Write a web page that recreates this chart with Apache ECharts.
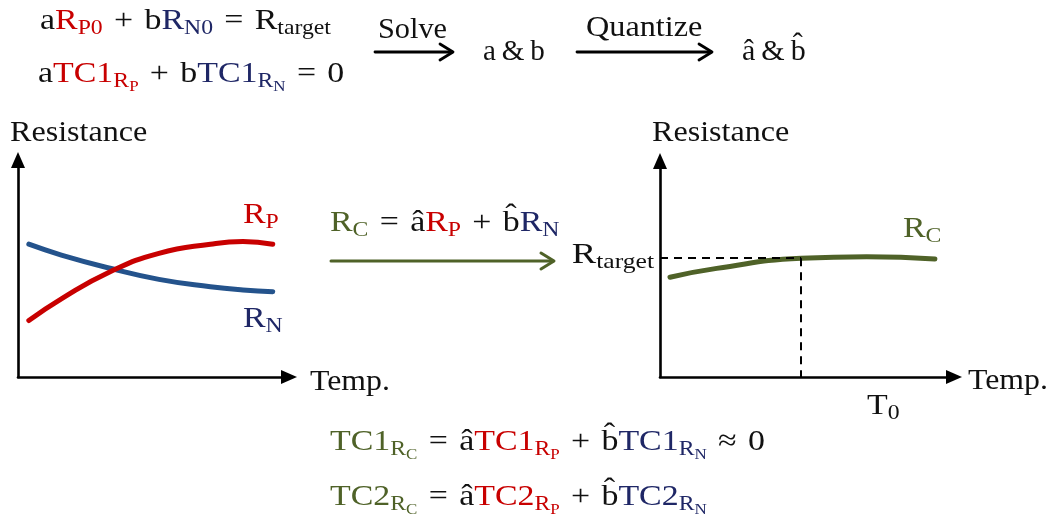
<!DOCTYPE html>
<html>
<head>
<meta charset="utf-8">
<script src="https://cdn.jsdelivr.net/npm/echarts@6/dist/echarts.min.js"></script>
<style>
  html, body { margin: 0; padding: 0; background: #fff; }
  #chart { width: 1050px; height: 521px; }
</style>
</head>
<body>
<div id="chart"></div>
<script>
// Temperature samples (arbitrary units, 0–100 along each temperature axis)
const tempsPN = [4, 16, 34, 52, 71, 83, 94];
// Resistor with positive temperature coefficient
const rP = [26, 36, 48.5, 57, 61.2, 62.4, 61.2];
// Resistor with negative temperature coefficient
const rN = [61.2, 56.2, 50.1, 45.0, 41.6, 40.1, 39.3];
// Combined resistor R_C = â·R_P + b̂·R_N
const tempsC = [3.4, 19.3, 48, 70.3, 93.5];
const rC = [46.2, 50.3, 55.0, 55.7, 54.6];
// Operating point
const T0 = 48;
const R_TARGET = 55;

const FONT = '"Liberation Serif", "Times New Roman", serif';
const FS = 30;          // main math size
const FS_S = 21;        // subscript size
const FS_SS = 15;       // sub-subscript size
const SX = 1.13;        // horizontal stretch of the math formulas
const BLACK = '#111111';
const RED = '#c80000';
const NAVY = '#1f2766';
const GREEN = '#4f6228';
const BLUE_LINE = '#24538c';

function mainStyle(c) {
  return { fill: c, color: c, fontFamily: FONT, fontSize: FS, lineHeight: 48 };
}
function subStyle(c) {
  return { fill: c, color: c, fontFamily: FONT, fontSize: FS_S, lineHeight: FS_S, padding: [15, 0, 0, 0] };
}
function subSubStyle(c) {
  return { fill: c, color: c, fontFamily: FONT, fontSize: FS_SS, lineHeight: FS_SS, padding: [26, 0, 0, 0] };
}
const rich = {
  k: mainStyle(BLACK), r: mainStyle(RED), b: mainStyle(NAVY), g: mainStyle(GREEN),
  kS: subStyle(BLACK), rS: subStyle(RED), bS: subStyle(NAVY), gS: subStyle(GREEN),
  rSS: subSubStyle(RED), bSS: subSubStyle(NAVY), gSS: subSubStyle(GREEN)
};

const BHAT = 'b\u0302';
const AHAT = '\u00e2';
// binary operator / relation with math spacing
function op(s) { return '\u2004' + s + '\u2004'; }

function mathText(x, y, text, sx, align) {
  return {
    type: 'text', x: x, y: y, scaleX: sx || SX, silent: true,
    style: { text: text, rich: rich, fontFamily: FONT, fontSize: FS, fill: BLACK,
             align: align || 'left', verticalAlign: 'middle' }
  };
}
function arrow(x1, x2, y, color, w) {
  return {
    type: 'group', silent: true,
    children: [
      { type: 'polyline', shape: { points: [[x1, y], [x2 - 1, y]] },
        style: { stroke: color, lineWidth: w, lineCap: 'round' } },
      { type: 'polyline', shape: { points: [[x2 - 13, y - 8], [x2, y], [x2 - 13, y + 8]] },
        style: { stroke: color, lineWidth: w, lineCap: 'round', lineJoin: 'round', fill: null } }
    ]
  };
}

const axisLineStyle = { color: '#000', width: 2.6 };
function baseAxis(extra) {
  return Object.assign({
    type: 'value', min: 0, max: 100,
    axisLine: { show: true, onZero: false, symbol: ['none', 'triangle'], symbolSize: [14, 16], lineStyle: axisLineStyle },
    axisTick: { show: false },
    splitLine: { show: false },
    axisLabel: { show: false }
  }, extra || {});
}

const chart = echarts.init(document.getElementById('chart'), null, { renderer: 'canvas' });

const option = {
  animation: false,
  backgroundColor: '#ffffff',
  grid: [
    { left: 18, top: 160, width: 271, height: 217 },
    { left: 660, top: 161, width: 294, height: 216 }
  ],
  xAxis: [
    baseAxis({ gridIndex: 0 }),
    baseAxis({ gridIndex: 1 })
  ],
  yAxis: [
    baseAxis({ gridIndex: 0 }),
    baseAxis({ gridIndex: 1 })
  ],
  series: [
    {
      name: 'R_N', type: 'line', xAxisIndex: 0, yAxisIndex: 0, smooth: 0.5,
      symbol: 'none', lineStyle: { color: BLUE_LINE, width: 5, cap: 'round' },
      data: tempsPN.map((t, i) => [t, rN[i]]), z: 3
    },
    {
      name: 'R_P', type: 'line', xAxisIndex: 0, yAxisIndex: 0, smooth: 0.5,
      symbol: 'none', lineStyle: { color: RED, width: 5, cap: 'round' },
      data: tempsPN.map((t, i) => [t, rP[i]]), z: 4
    },
    {
      name: 'guides', type: 'line', xAxisIndex: 1, yAxisIndex: 1, data: [], z: 2,
      markLine: {
        silent: true, symbol: ['none', 'none'], label: { show: false },
        lineStyle: { color: '#000', width: 2, type: [8, 6] },
        emphasis: { disabled: true },
        data: [
          [{ coord: [0, R_TARGET] }, { coord: [T0, R_TARGET] }],
          [{ coord: [T0, R_TARGET] }, { coord: [T0, 0] }]
        ]
      }
    },
    {
      name: 'R_C', type: 'line', xAxisIndex: 1, yAxisIndex: 1, smooth: 0.5,
      symbol: 'none', lineStyle: { color: GREEN, width: 5, cap: 'round' },
      data: tempsC.map((t, i) => [t, rC[i]]), z: 4
    }
  ]
};

chart.setOption(option);

// R_target sits beside the right-hand resistance axis, level with its value
const targetY = chart.convertToPixel({ gridIndex: 1 }, [0, R_TARGET])[1];

chart.setOption({
  graphic: [
    mathText(40, 21, '{k|a}{r|R}{rS|P0}{k|' + op('+') + 'b}{b|R}{bS|N0}{k|' + op('=') + 'R}{kS|target}'),
    mathText(38, 74, '{k|a}{r|TC1}{rS|R}{rSS|P}{k|' + op('+') + 'b}{b|TC1}{bS|R}{bSS|N}{k|' + op('=') + '0}'),
    mathText(378, 30, '{k|Solve}', 1.01),
    arrow(375, 453, 52, '#000', 2.8),
    mathText(483, 52, '{k|a\u2009&\u2009b}', 0.97),
    mathText(586, 28, '{k|Quantize}', 1.075),
    arrow(577, 712, 52, '#000', 2.8),
    mathText(742, 52, '{k|' + AHAT + '\u2009&\u2009' + BHAT + '}', 1.0),
    mathText(10, 133, '{k|Resistance}', 1.07),
    mathText(652, 133, '{k|Resistance}', 1.07),
    mathText(243, 215, '{r|R}{rS|P}'),
    mathText(243, 319, '{b|R}{bS|N}'),
    mathText(654, targetY - 3, '{k|R}{kS|target}', 1.22, 'right'),
    mathText(330, 223, '{g|R}{gS|C}{k|' + op('=') + AHAT + '}{r|R}{rS|P}{k|' + op('+') + BHAT + '}{b|R}{bS|N}'),
    arrow(331, 554, 261, GREEN, 3),
    mathText(903, 229, '{g|R}{gS|C}'),
    mathText(310, 382, '{k|Temp.}', 1.06),
    mathText(968, 381, '{k|Temp.}', 1.06),
    mathText(867, 406, '{k|T}{kS|0}'),
    mathText(330, 442, '{g|TC1}{gS|R}{gSS|C}{k|' + op('=') + AHAT + '}{r|TC1}{rS|R}{rSS|P}{k|' + op('+') + BHAT + '}{b|TC1}{bS|R}{bSS|N}{k|' + op('\u2248') + '0}'),
    mathText(330, 497, '{g|TC2}{gS|R}{gSS|C}{k|' + op('=') + AHAT + '}{r|TC2}{rS|R}{rSS|P}{k|' + op('+') + BHAT + '}{b|TC2}{bS|R}{bSS|N}')
  ]
});
</script>
</body>
</html>
